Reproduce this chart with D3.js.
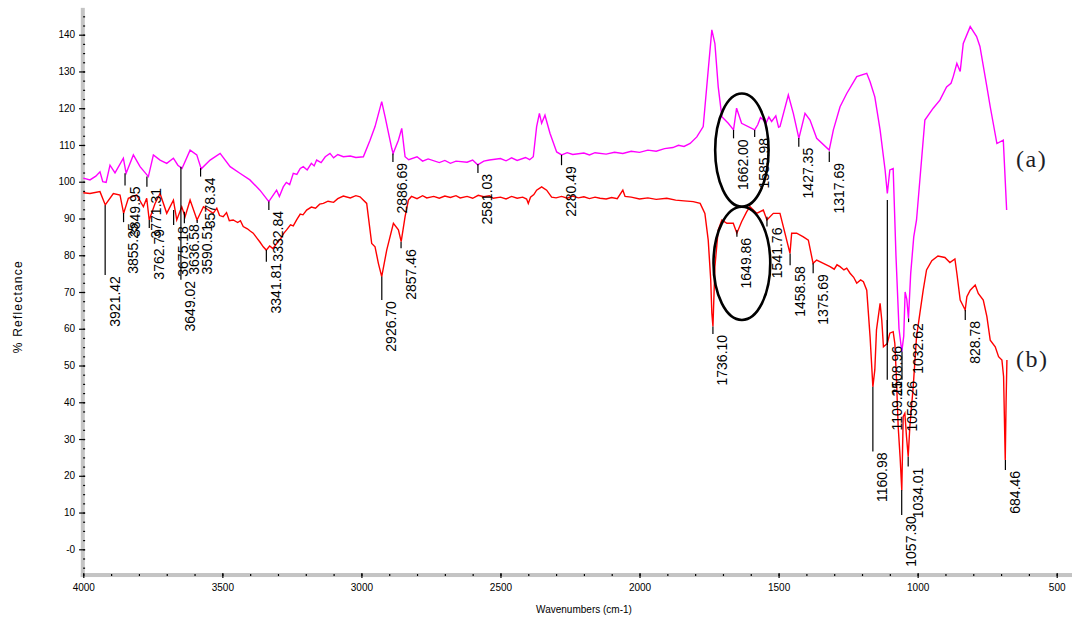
<!DOCTYPE html>
<html>
<head>
<meta charset="utf-8">
<script src="https://cdn.jsdelivr.net/npm/d3@7/dist/d3.min.js"></script>
<style>
html, body { margin: 0; padding: 0; background: #fff; }
svg { display: block; }
</style>
</head>
<body>
<svg id="chart" width="1072" height="617"></svg>
<script>
// spectrum (a), magenta
var wnA = [4000, 3976, 3955, 3940, 3930, 3918, 3904, 3886, 3856, 3846, 3820, 3796, 3766, 3748, 3724, 3700, 3676, 3660, 3645, 3616, 3592, 3576, 3544, 3508, 3472, 3437, 3401, 3365, 3333, 3305, 3295, 3281, 3270, 3258, 3245, 3232, 3220, 3209, 3195, 3180, 3170, 3161, 3145, 3130, 3113, 3100, 3085, 3065, 3040, 3020, 2993, 2969, 2951, 2927, 2915, 2891, 2886, 2867, 2855, 2843, 2830, 2800, 2780, 2760, 2720, 2700, 2680, 2660, 2620, 2600, 2582, 2560, 2540, 2500, 2480, 2460, 2440, 2410, 2395, 2382, 2370, 2360, 2352, 2340, 2322, 2298, 2280, 2260, 2240, 2200, 2180, 2160, 2120, 2090, 2060, 2030, 2000, 1970, 1940, 1910, 1880, 1860, 1840, 1818, 1794, 1771, 1753, 1740, 1729, 1717, 1704, 1681, 1662, 1651, 1633, 1586, 1575, 1565, 1555, 1545, 1535, 1525, 1510, 1500, 1495, 1465, 1447, 1427, 1405, 1387, 1363, 1318, 1303, 1279, 1255, 1219, 1183, 1171, 1154, 1135, 1117, 1109, 1100, 1088, 1078, 1067, 1057, 1050, 1045, 1039, 1033, 1025, 1014, 1004, 974, 944, 920, 896, 880, 872, 859, 847, 836, 811, 788, 776, 751, 739, 715, 692, 680];
var valA = [101.0, 100.5, 101.5, 102.7, 100.0, 99.8, 104.5, 102.4, 106.4, 102.3, 107.3, 104.1, 101.4, 107.3, 105.9, 105.0, 106.4, 104.5, 103.6, 108.6, 107.3, 103.5, 105.9, 107.7, 104.1, 102.3, 100.5, 97.7, 94.6, 97.7, 96.0, 98.6, 99.8, 99.2, 102.3, 102.0, 103.6, 104.1, 103.2, 105.0, 104.3, 105.9, 105.2, 106.8, 107.7, 106.5, 107.4, 106.8, 107.0, 106.6, 106.8, 111.3, 115.0, 121.8, 117.7, 109.1, 107.7, 111.3, 114.5, 106.8, 106.0, 106.8, 105.6, 106.2, 105.2, 105.8, 105.0, 105.6, 105.3, 105.9, 104.6, 105.6, 105.9, 106.3, 105.7, 106.5, 105.8, 106.6, 106.0, 106.8, 115.0, 118.6, 115.9, 118.1, 113.2, 108.1, 107.3, 107.9, 107.4, 107.8, 107.3, 107.9, 107.5, 108.0, 107.7, 108.3, 108.0, 108.6, 108.3, 109.0, 109.3, 109.9, 109.6, 110.4, 112.2, 115.0, 130.4, 141.3, 137.6, 125.8, 117.7, 115.9, 114.1, 120.0, 115.9, 114.1, 115.5, 117.5, 116.8, 116.0, 117.6, 116.4, 117.9, 114.8, 115.0, 123.6, 118.6, 111.8, 118.6, 116.8, 111.8, 108.6, 114.1, 120.4, 124.0, 128.6, 129.5, 127.2, 123.1, 114.1, 103.2, 96.8, 103.2, 103.6, 80.0, 60.0, 53.8, 58.0, 70.0, 68.0, 62.8, 75.0, 85.0, 89.6, 116.8, 120.0, 122.2, 125.8, 126.8, 128.6, 132.2, 130.0, 137.6, 142.2, 139.5, 136.8, 125.8, 120.4, 110.4, 111.3, 92.3];

// spectrum (b), red
var wnB = [4000, 3976, 3940, 3921, 3892, 3868, 3855, 3838, 3808, 3784, 3772, 3763, 3742, 3724, 3700, 3676, 3664, 3646, 3634, 3616, 3591, 3568, 3533, 3520, 3510, 3497, 3485, 3475, 3461, 3445, 3435, 3425, 3410, 3400, 3389, 3375, 3365, 3353, 3342, 3330, 3318, 3305, 3290, 3280, 3269, 3255, 3245, 3233, 3220, 3210, 3197, 3180, 3165, 3150, 3137, 3120, 3100, 3085, 3065, 3040, 3020, 3005, 2981, 2963, 2951, 2939, 2927, 2909, 2885, 2867, 2857, 2843, 2831, 2820, 2800, 2780, 2765, 2740, 2720, 2700, 2680, 2660, 2645, 2620, 2600, 2580, 2560, 2540, 2526, 2500, 2480, 2460, 2440, 2420, 2406, 2400, 2392, 2380, 2370, 2352, 2334, 2316, 2300, 2280, 2260, 2240, 2220, 2200, 2180, 2160, 2142, 2120, 2100, 2080, 2060, 2052, 2030, 2000, 1970, 1940, 1902, 1870, 1840, 1807, 1782, 1765, 1753, 1744, 1740, 1736, 1729, 1717, 1704, 1686, 1663, 1650, 1633, 1615, 1603, 1579, 1555, 1542, 1519, 1495, 1483, 1459, 1453, 1435, 1411, 1393, 1376, 1363, 1339, 1315, 1300, 1290, 1279, 1265, 1255, 1243, 1230, 1219, 1205, 1195, 1183, 1171, 1161, 1154, 1148, 1135, 1129, 1123, 1109, 1100, 1088, 1082, 1076, 1070, 1063, 1057, 1052, 1046, 1040, 1034, 1028, 1016, 1004, 992, 980, 968, 949, 927, 902, 884, 866, 859, 847, 829, 823, 811, 793, 782, 764, 751, 739, 721, 709, 697, 691, 685, 682, 679];
var valB = [97.0, 96.8, 97.3, 93.7, 96.8, 96.4, 91.4, 95.5, 96.4, 93.2, 95.5, 89.6, 94.1, 96.8, 91.4, 95.0, 89.6, 93.2, 90.5, 95.0, 89.6, 93.2, 91.4, 92.8, 90.8, 90.5, 91.6, 89.4, 89.6, 88.9, 89.4, 87.8, 87.2, 86.6, 86.0, 84.6, 83.6, 82.3, 81.4, 82.5, 81.8, 83.2, 84.5, 85.9, 86.9, 88.3, 88.0, 89.6, 91.2, 91.0, 92.3, 93.1, 92.8, 93.9, 94.1, 94.7, 94.4, 95.4, 96.1, 95.6, 96.2, 95.9, 94.1, 83.2, 82.3, 77.8, 74.2, 81.4, 88.7, 86.9, 83.7, 90.5, 95.0, 96.0, 95.4, 96.2, 95.6, 96.0, 95.5, 96.1, 95.7, 96.2, 95.6, 96.0, 95.5, 96.3, 95.9, 96.2, 95.5, 95.8, 95.3, 96.0, 95.5, 95.8, 95.3, 94.1, 95.8, 96.5, 97.7, 98.6, 97.7, 95.8, 95.6, 96.0, 95.5, 96.1, 95.6, 95.9, 95.4, 95.8, 95.5, 95.3, 95.7, 95.4, 97.7, 96.0, 95.8, 95.3, 95.6, 95.2, 95.5, 95.0, 94.8, 94.6, 94.1, 91.4, 84.1, 73.3, 64.2, 60.6, 76.9, 86.9, 89.6, 88.7, 88.7, 86.0, 89.1, 91.8, 93.2, 91.4, 92.3, 89.6, 91.4, 91.4, 87.8, 80.5, 86.0, 86.0, 85.0, 84.1, 77.8, 78.7, 77.8, 76.9, 76.2, 77.4, 76.9, 76.0, 76.5, 75.1, 74.0, 72.4, 73.3, 72.8, 70.5, 57.8, 44.2, 48.8, 59.7, 66.9, 62.4, 55.1, 56.0, 58.8, 59.2, 56.0, 46.1, 33.4, 25.0, 16.1, 36.1, 37.0, 30.6, 25.2, 33.4, 44.2, 57.8, 64.2, 70.5, 76.0, 78.5, 79.8, 79.4, 78.0, 79.0, 75.1, 67.8, 65.1, 68.7, 70.5, 71.9, 69.6, 67.8, 63.3, 56.9, 55.1, 52.4, 51.5, 47.0, 24.3, 40.0, 51.5];

// peak labels: text, line start (on the curve) and line end, in % reflectance
var peakTextA = ["3849.95", "3771.31", "3649.02", "3578.34", "3332.84", "2886.69", "2581.03", "2280.49", "1662.00", "1585.98", "1427.35", "1317.69", "1108.96", "1056.26", "1032.62"];
var peakTopA = [102.3, 101.4, 104.1, 103.7, 94.6, 107.7, 104.8, 107.3, 114.1, 114.1, 111.9, 108.2, 95.0, 53.8, 62.8];
var peakEndA = [99.0, 98.6, 73.3, 101.4, 92.3, 105.4, 102.4, 104.5, 111.8, 112.2, 109.5, 105.4, 55.6, 46.1, 61.8];

var peakTextB = ["3921.42", "3855.25", "3762.79", "3675.18", "3636.58", "3590.51", "3341.81", "2926.70", "2857.46", "1736.10", "1649.86", "1541.76", "1458.58", "1375.69", "1160.98", "1109.25", "1057.30", "1034.01", "828.78", "684.46"];
var peakTopB = [93.6, 91.5, 89.6, 92.3, 91.8, 89.6, 81.4, 74.2, 83.7, 60.6, 86.9, 90.5, 80.5, 77.8, 44.2, 62.4, 16.1, 25.2, 65.1, 24.3];
var peakEndB = [74.6, 89.0, 87.4, 88.2, 88.7, 88.8, 78.2, 67.8, 81.9, 58.6, 85.0, 87.8, 77.3, 75.1, 26.6, 46.1, 9.3, 22.5, 62.4, 21.6];

// circled region
var ringWn = [1632, 1632];
var ringVal = [108.6, 77.8];
var ringHalfWn = [96, 102];
var ringHalfVal = [15.4, 15.4];

var xTicks = [4000, 3500, 3000, 2500, 2000, 1500, 1000, 500];
var yTicks = [0, 10, 20, 30, 40, 50, 60, 70, 80, 90, 100, 110, 120, 130, 140];

var svg = d3.select("#chart");

var x = d3.scaleLinear().domain([4000, 500]).range([83.3, 1056.7]);
var y = d3.scaleLinear().domain([0, 140]).range([549.3, 34.7]);

var axisFont = "'Liberation Sans', Arial, sans-serif";

// gray axis bands
svg.append("rect")
	.attr("x", x(4000) - 2.5).attr("y", y(147.3))
	.attr("width", 4).attr("height", y(-7) - y(147.3) + 2)
	.attr("fill", "#c4c4c4");
svg.append("rect")
	.attr("x", x(4000) - 2.5).attr("y", y(-7) - 2)
	.attr("width", 1072 - x(4000) + 3).attr("height", 4)
	.attr("fill", "#c4c4c4");

// y axis
var yMinor = svg.append("g")
	.attr("transform", "translate(" + (x(4000) + 1.8) + ",0)")
	.call(d3.axisLeft(y).tickValues(d3.range(-5, 147.5, 2.5)).tickSize(2).tickFormat(""));
yMinor.select(".domain").remove();

var yAxis = svg.append("g")
	.attr("transform", "translate(" + (x(4000) + 1.8) + ",0)")
	.call(d3.axisLeft(y).tickValues(yTicks).tickSize(6).tickPadding(4)
		.tickFormat(function (d) { return d === 0 ? "-0" : d; }));
yAxis.select(".domain").remove();
yAxis.selectAll("text").attr("font-family", axisFont).attr("font-size", 10).attr("fill", "#000");

// x axis
var xMinor = svg.append("g")
	.attr("transform", "translate(0," + (y(-7) - 1) + ")")
	.call(d3.axisBottom(x).tickValues(d3.range(4000, 499, -100)).tickSize(2).tickFormat(""));
xMinor.select(".domain").remove();

var xAxis = svg.append("g")
	.attr("transform", "translate(0," + (y(-7) - 2) + ")")
	.call(d3.axisBottom(x).tickValues(xTicks).tickSize(5).tickPadding(6).tickFormat(d3.format("d")));
xAxis.select(".domain").remove();
xAxis.selectAll("text").attr("font-family", axisFont).attr("font-size", 10).attr("fill", "#000");

svg.selectAll(".tick line").attr("stroke", "#000").attr("stroke-width", 1.2);

// axis titles
svg.append("text")
	.attr("transform", "translate(22," + y(66) + ") rotate(-90)")
	.attr("text-anchor", "middle")
	.attr("font-family", axisFont).attr("font-size", 12)
	.attr("letter-spacing", 1.2)
	.text("% Reflectance");

svg.append("text")
	.attr("x", 584).attr("y", 613)
	.attr("text-anchor", "middle")
	.attr("font-family", axisFont).attr("font-size", 10)
	.text("Wavenumbers (cm-1)");

// spectra
var line = d3.line()
	.x(function (d) { return x(d[0]); })
	.y(function (d) { return y(d[1]); });

svg.append("path")
	.datum(d3.zip(wnA, valA))
	.attr("d", line)
	.attr("fill", "none").attr("stroke", "#ff00ff").attr("stroke-width", 1.4);

svg.append("path")
	.datum(d3.zip(wnB, valB))
	.attr("d", line)
	.attr("fill", "none").attr("stroke", "#ff0000").attr("stroke-width", 1.4);

// peak markers
function drawPeaks(texts, tops, ends) {
	var g = svg.append("g");
	var peaks = texts.map(function (t, i) {
		return { wn: parseFloat(t), label: t, top: tops[i], end: ends[i] };
	});
	g.selectAll("line").data(peaks).enter().append("line")
		.attr("x1", function (d) { return x(d.wn); })
		.attr("x2", function (d) { return x(d.wn); })
		.attr("y1", function (d) { return y(d.top); })
		.attr("y2", function (d) { return y(d.end); })
		.attr("stroke", "#000").attr("stroke-width", 1.2);
	g.selectAll("text").data(peaks).enter().append("text")
		.attr("transform", function (d) {
			return "translate(" + (x(d.wn) + 9.5) + "," + (y(d.end) + 1) + ") rotate(-90)";
		})
		.attr("text-anchor", "end")
		.attr("dy", "0.36em")
		.attr("font-family", axisFont).attr("font-size", 14)
		.attr("fill", "#000")
		.text(function (d) { return d.label; });
}
drawPeaks(peakTextA, peakTopA, peakEndA);
drawPeaks(peakTextB, peakTopB, peakEndB);

// ellipses round the amide band
svg.selectAll(".ring").data(ringWn).enter().append("ellipse")
	.attr("class", "ring")
	.attr("cx", function (d) { return x(d); })
	.attr("cy", function (d, i) { return y(ringVal[i]); })
	.attr("rx", function (d, i) { return x(d - ringHalfWn[i]) - x(d); })
	.attr("ry", function (d, i) { return y(ringVal[i] - ringHalfVal[i]) - y(ringVal[i]); })
	.attr("fill", "none").attr("stroke", "#000").attr("stroke-width", 2.6);

// series names
var serif = "'Liberation Serif', 'Times New Roman', serif";
svg.append("text")
	.attr("x", 1016).attr("y", y(104))
	.attr("font-family", serif).attr("font-size", 24).attr("letter-spacing", 1.5)
	.attr("fill", "#1e1e28")
	.text("(a)");
svg.append("text")
	.attr("x", 1016).attr("y", y(49.6))
	.attr("font-family", serif).attr("font-size", 24).attr("letter-spacing", 1.5)
	.attr("fill", "#1e1e28")
	.text("(b)");
</script>
</body>
</html>
